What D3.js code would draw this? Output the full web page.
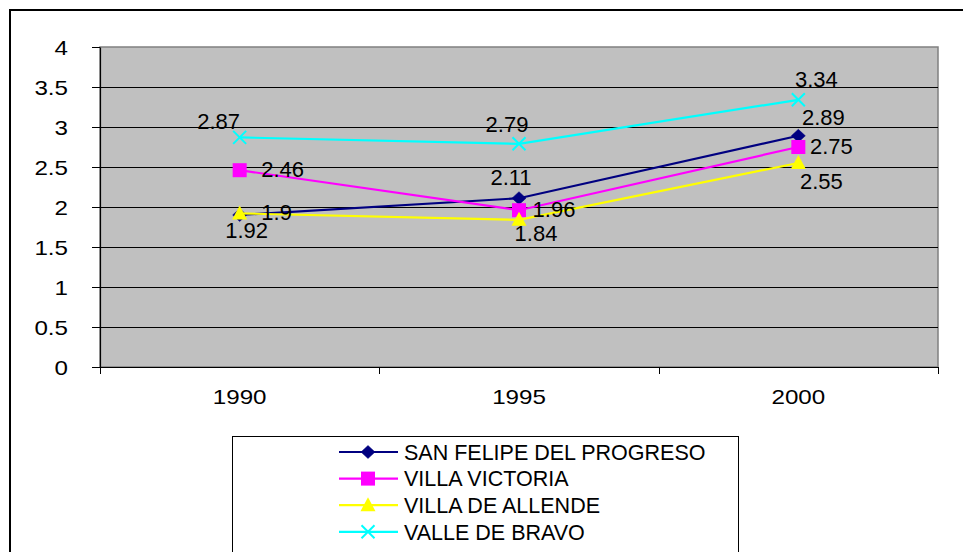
<!DOCTYPE html>
<html><head><meta charset="utf-8">
<script src="https://cdn.jsdelivr.net/npm/d3@7"></script>
<style>
html,body{margin:0;padding:0;background:#fff;}
svg{display:block;font-family:Arial,"Liberation Sans",sans-serif;}
</style></head>
<body>
<svg id="chart" width="963" height="552"></svg>
<script>
const categories = ["1990", "1995", "2000"];
const seriesNames = ["SAN FELIPE DEL PROGRESO", "VILLA VICTORIA", "VILLA DE ALLENDE", "VALLE DE BRAVO"];
const sanFelipe = [1.9, 2.11, 2.89];
const villaVictoria = [2.46, 1.96, 2.75];
const villaAllende = [1.92, 1.84, 2.55];
const valleBravo = [2.87, 2.79, 3.34];
const yTicks = [0, 0.5, 1, 1.5, 2, 2.5, 3, 3.5, 4];

// styling / layout (not data)
const colors = ["#000080", "#FF00FF", "#FFFF00", "#00FFFF"];
const markers = ["diamond", "square", "triangle", "x"];
const labelOffsets = [
  [[37, -3], [-8, -21], [25, -19]],
  [[43, -1], [35, -1], [33, -1]],
  [[7, 17], [17, 13], [23, 18]],
  [[-21, -16], [-12, -20], [18, -21]]
];

const seriesValues = [sanFelipe, villaVictoria, villaAllende, valleBravo];

const svg = d3.select("#chart");
const plot = {left: 100, top: 47, right: 938, bottom: 367};

// outer border
svg.append("rect").attr("x", 10).attr("y", 10).attr("width", 965).attr("height", 560)
  .attr("fill", "#fff").attr("stroke", "#000").attr("stroke-width", 2);

const x = d3.scaleBand().domain(categories).range([plot.left, plot.right]).padding(0);
const y = d3.scaleLinear().domain([0, 4]).range([plot.bottom, plot.top]);
const cx = c => x(c) + x.bandwidth() / 2;

// plot background
svg.append("rect").attr("x", plot.left).attr("y", plot.top)
  .attr("width", plot.right - plot.left).attr("height", plot.bottom - plot.top)
  .attr("fill", "#C0C0C0").attr("stroke", "#808080").attr("stroke-width", 1.5);

// gridlines
svg.append("g").selectAll("line").data(yTicks.filter(t => t > 0 && t < 4)).join("line")
  .attr("x1", plot.left).attr("x2", plot.right)
  .attr("y1", d => Math.round(y(d)) + 0.5).attr("y2", d => Math.round(y(d)) + 0.5)
  .attr("stroke", "#000").attr("stroke-width", 1);

// y axis
const yAxis = svg.append("g").attr("transform", `translate(${plot.left},0)`)
  .call(d3.axisLeft(y).tickValues(yTicks).tickFormat(d => String(d)).tickSize(8).tickSizeOuter(0));
yAxis.select(".domain").attr("stroke", "#000").attr("stroke-width", 1.2);
yAxis.selectAll(".tick line").attr("stroke", "#000");
yAxis.selectAll(".tick text").attr("font-size", 21).attr("fill", "#000")
  .attr("font-family", "Arial, 'Liberation Sans', sans-serif")
  .attr("x", -32).attr("dy", "0.36em");

// x axis (labels)
const xAxis = svg.append("g").attr("transform", `translate(0,${plot.bottom})`)
  .call(d3.axisBottom(x).tickSize(0).tickSizeOuter(0));
xAxis.select(".domain").attr("stroke", "#000").attr("stroke-width", 1.2);
xAxis.selectAll(".tick text").attr("font-size", 21).attr("fill", "#000")
  .attr("font-family", "Arial, 'Liberation Sans', sans-serif")
  .attr("y", 37).attr("dy", "0");
// x tick marks at category boundaries
const bounds = categories.map(c => x(c)).concat([x(categories[categories.length - 1]) + x.bandwidth()]);
svg.append("g").selectAll("line").data(bounds).join("line")
  .attr("x1", d => Math.round(d) + 0.5).attr("x2", d => Math.round(d) + 0.5)
  .attr("y1", plot.bottom).attr("y2", plot.bottom + 7).attr("stroke", "#000");

// stretch axis labels slightly (as in reference)
svg.selectAll(".tick text").each(function() {
  const w = this.getComputedTextLength();
  d3.select(this).attr("textLength", w * 1.15).attr("lengthAdjust", "spacingAndGlyphs");
});

function drawMarker(g, type, px, py, color) {
  if (type === "diamond") {
    g.append("path").attr("d", `M${px},${py - 6.5}L${px + 7},${py}L${px},${py + 6.5}L${px - 7},${py}Z`)
      .attr("fill", color).attr("stroke", color).attr("stroke-width", 0.5);
  } else if (type === "square") {
    g.append("rect").attr("x", px - 7).attr("y", py - 7).attr("width", 14).attr("height", 14)
      .attr("fill", color);
  } else if (type === "triangle") {
    g.append("path").attr("d", `M${px},${py - 8}L${px + 7.5},${py + 6}L${px - 7.5},${py + 6}Z`)
      .attr("fill", color);
  } else if (type === "x") {
    g.append("path").attr("d", `M${px - 6.5},${py - 6.5}L${px + 6.5},${py + 6.5}M${px - 6.5},${py + 6.5}L${px + 6.5},${py - 6.5}`)
      .attr("stroke", color).attr("stroke-width", 2).attr("fill", "none");
  }
}

const line = d3.line().x((d, i) => cx(categories[i])).y(d => y(d));
seriesValues.forEach((vals, si) => {
  const g = svg.append("g");
  g.append("path").datum(vals).attr("d", line).attr("fill", "none")
    .attr("stroke", colors[si]).attr("stroke-width", 2.2);
  vals.forEach((v, i) => drawMarker(g, markers[si], cx(categories[i]), y(v), colors[si]));
});

// data labels
const lg = svg.append("g");
seriesValues.forEach((vals, si) => {
  vals.forEach((v, i) => {
    const [dx, dy] = labelOffsets[si][i];
    lg.append("text").attr("x", cx(categories[i]) + dx).attr("y", y(v) + dy)
      .attr("text-anchor", "middle").attr("dy", "0.36em")
      .attr("font-size", 22).attr("fill", "#000").text(String(v));
  });
});

// legend
const leg = svg.append("g");
leg.append("rect").attr("x", 232.5).attr("y", 436.5).attr("width", 506).attr("height", 140)
  .attr("fill", "#fff").attr("stroke", "#000").attr("stroke-width", 1);
seriesNames.forEach((name, si) => {
  const ry = 452 + si * 26.6;
  leg.append("line").attr("x1", 339).attr("x2", 398).attr("y1", ry).attr("y2", ry)
    .attr("stroke", colors[si]).attr("stroke-width", 2.2);
  drawMarker(leg, markers[si], 368, ry, colors[si]);
  leg.append("text").attr("x", 404).attr("y", ry).attr("dy", "0.36em")
    .attr("font-size", 21.5).attr("fill", "#000").text(name);
});
</script>
</body></html>
